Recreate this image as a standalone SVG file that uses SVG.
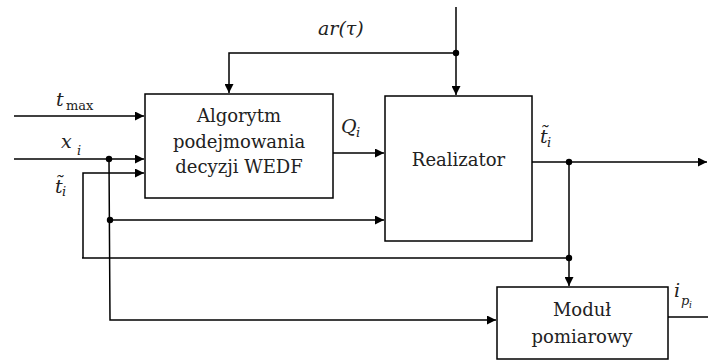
<svg xmlns="http://www.w3.org/2000/svg" width="708" height="361" viewBox="0 0 708 361">
<defs>
<marker id="arr" viewBox="0 0 10 10" refX="10" refY="5" markerWidth="10" markerHeight="9" markerUnits="userSpaceOnUse" orient="auto">
<path d="M0,0 L10,5 L0,10 Z" fill="#000"/>
</marker>
</defs>
<style>
.box{fill:#fff;stroke:#000;stroke-width:1.5}
.ln{fill:none;stroke:#000;stroke-width:1.5}
.ar{marker-end:url(#arr)}
.dot{fill:#000}
.t{font-family:"DejaVu Serif",serif;font-size:18px;fill:#222;text-anchor:middle}
.m{font-family:"DejaVu Serif",serif;font-style:italic;font-size:19px;fill:#222}
.s{font-size:13px}
.up{font-style:normal}
</style>
<rect width="708" height="361" fill="#fff"/>
<g id="connectors">
<path class="ln ar" d="M456,7 L456,95"/>
<path class="ln ar" d="M456,53 L229,53 L229,93"/>
<path class="ln ar" d="M14,116 L144,116"/>
<path class="ln ar" d="M14,159 L144,159"/>
<path class="ln ar" d="M83,258 L83,173 L144,173"/>
<path class="ln" d="M82,258 L569,258"/>
<path class="ln ar" d="M109,159 L110,320 L496,320"/>
<path class="ln ar" d="M110,220 L384,220"/>
<path class="ln ar" d="M333,153 L384,153"/>
<path class="ln ar" d="M532,162 L707,162"/>
<path class="ln ar" d="M569,162 L569,286"/>
<path class="ln" d="M668,317 L708,317"/>
<circle class="dot" cx="456" cy="53" r="3.2"/>
<circle class="dot" cx="109" cy="159" r="3.2"/>
<circle class="dot" cx="110" cy="220" r="3.2"/>
<circle class="dot" cx="569" cy="162" r="3.2"/>
<circle class="dot" cx="569" cy="258" r="3.2"/>
</g>
<g id="algorytm">
<rect class="box" x="145" y="94" width="188" height="104"/>
<text class="t" x="239" y="122">Algorytm</text>
<text class="t" x="239" y="148">podejmowania</text>
<text class="t" x="239" y="173">decyzji WEDF</text>
</g>
<g id="realizator">
<rect class="box" x="385" y="96" width="147" height="145"/>
<text class="t" x="458.5" y="166">Realizator</text>
</g>
<g id="modul">
<rect class="box" x="497" y="287" width="171" height="72"/>
<text class="t" x="582" y="316">Moduł</text>
<text class="t" x="582" y="343">pomiarowy</text>
</g>
<g id="labels">
<text class="m" x="318" y="35">ar(τ)</text>
<text class="m" x="56" y="106">t<tspan class="s up" x="66" y="110">max</tspan></text>
<text class="m" x="61" y="148">x<tspan class="s" x="77" y="155">i</tspan></text>
<text class="m" x="55" y="193">t̃<tspan class="s" x="62" y="196">i</tspan></text>
<text class="m" x="341" y="133">Q<tspan class="s" x="356" y="137">i</tspan></text>
<text class="m" x="540" y="143">t̃<tspan class="s" x="547" y="147">i</tspan></text>
<text class="m" x="674" y="297">i<tspan class="s" x="681" y="305">p</tspan><tspan style="font-size:9px" x="689" y="308">i</tspan></text>
</g>
</svg>
